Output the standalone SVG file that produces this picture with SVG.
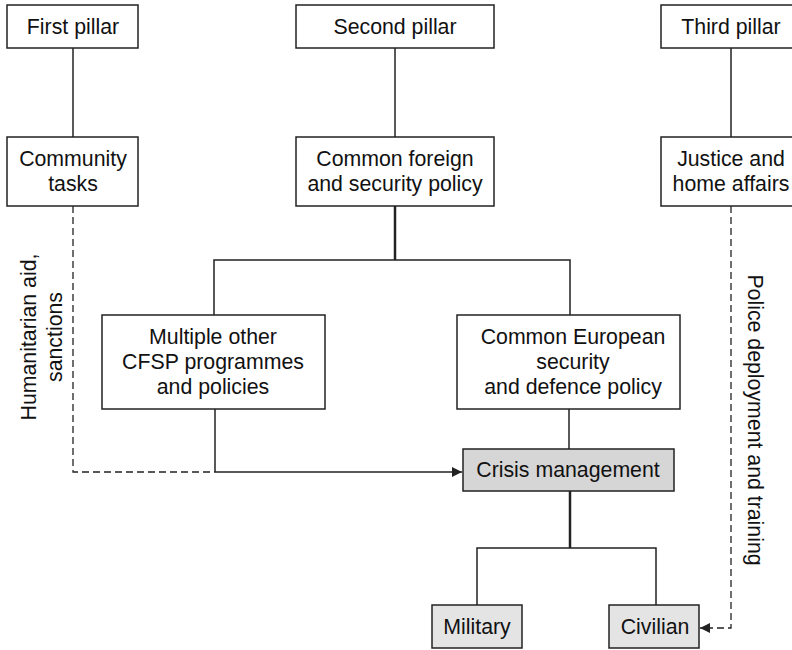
<svg xmlns="http://www.w3.org/2000/svg" width="792" height="650" viewBox="0 0 792 650">
<style>
.box{fill:#fff;stroke:#222;stroke-width:1.5}
.g1{fill:#d6d6d6;stroke:#222;stroke-width:1.5}
.g2{fill:#e4e4e4;stroke:#222;stroke-width:1.5}
text{font-family:"Liberation Sans",Arial,sans-serif;font-size:21.3px;fill:#111;text-anchor:middle}
.ln{fill:none;stroke:#222;stroke-width:1.5}
.th{fill:none;stroke:#222;stroke-width:2.5}
.ds{fill:none;stroke:#222;stroke-width:1.3;stroke-dasharray:7 4}
</style>
<defs>
<marker id="ah" markerWidth="10" markerHeight="10" viewBox="0 0 10 10" refX="10" refY="5" orient="auto" markerUnits="userSpaceOnUse">
<path d="M0,0 L10,5 L0,10 Z" fill="#222"/>
</marker>
</defs>
<g id="connectors">
<line class="ln" x1="73" y1="48" x2="73" y2="137"/>
<line class="ln" x1="395" y1="48" x2="395" y2="137"/>
<line class="ln" x1="731" y1="48" x2="731" y2="137"/>
<line class="th" x1="395" y1="206" x2="395" y2="260"/>
<polyline class="ln" points="214,315 214,260 570,260 570,315"/>
<path class="ds" d="M73,206 V472 H215"/>
<line class="ln" x1="215" y1="409" x2="215" y2="472"/>
<line class="ln" x1="215" y1="472" x2="462" y2="472" marker-end="url(#ah)"/>
<line class="ln" x1="569" y1="409" x2="569" y2="449"/>
<line class="th" x1="570" y1="491" x2="570" y2="548"/>
<polyline class="ln" points="477,605 477,548 656,548 656,605"/>
<path class="ds" d="M731,206 V628 H712"/>
<line class="ln" x1="712" y1="628" x2="700" y2="628" marker-end="url(#ah)"/>
<text transform="translate(36,337) rotate(-90)"><tspan x="0" y="0">Humanitarian aid,</tspan><tspan x="0" y="26">sanctions</tspan></text>
<text transform="translate(748,420) rotate(90)">Police deployment and training</text>
</g>
<g id="first-pillar"><rect class="box" x="7" y="5" width="131" height="43"/><text x="73" y="34">First pillar</text></g>
<g id="second-pillar"><rect class="box" x="296" y="5" width="198" height="43"/><text x="395" y="34">Second pillar</text></g>
<g id="third-pillar"><rect class="box" x="661" y="5" width="140" height="43"/><text x="731" y="34">Third pillar</text></g>
<g id="community-tasks"><rect class="box" x="7" y="137" width="131" height="69"/><text x="73" y="166">Community</text><text x="73" y="191">tasks</text></g>
<g id="cfsp"><rect class="box" x="296" y="137" width="198" height="69"/><text x="395" y="166">Common foreign</text><text x="395" y="191">and security policy</text></g>
<g id="jha"><rect class="box" x="661" y="137" width="140" height="69"/><text x="731" y="166">Justice and</text><text x="731" y="191">home affairs</text></g>
<g id="multiple"><rect class="box" x="102" y="315" width="223" height="94"/><text x="213" y="344">Multiple other</text><text x="213" y="369">CFSP programmes</text><text x="213" y="394">and policies</text></g>
<g id="esdp"><rect class="box" x="457" y="315" width="223" height="94"/><text x="573" y="344">Common European</text><text x="573" y="369">security</text><text x="573" y="394">and defence policy</text></g>
<g id="crisis"><rect class="g1" x="463" y="449" width="211" height="42"/><text x="568" y="477">Crisis management</text></g>
<g id="military"><rect class="g2" x="432" y="605" width="90" height="43"/><text x="477" y="634">Military</text></g>
<g id="civilian"><rect class="g2" x="609" y="605" width="90" height="43"/><text x="655" y="634">Civilian</text></g>
</svg>
